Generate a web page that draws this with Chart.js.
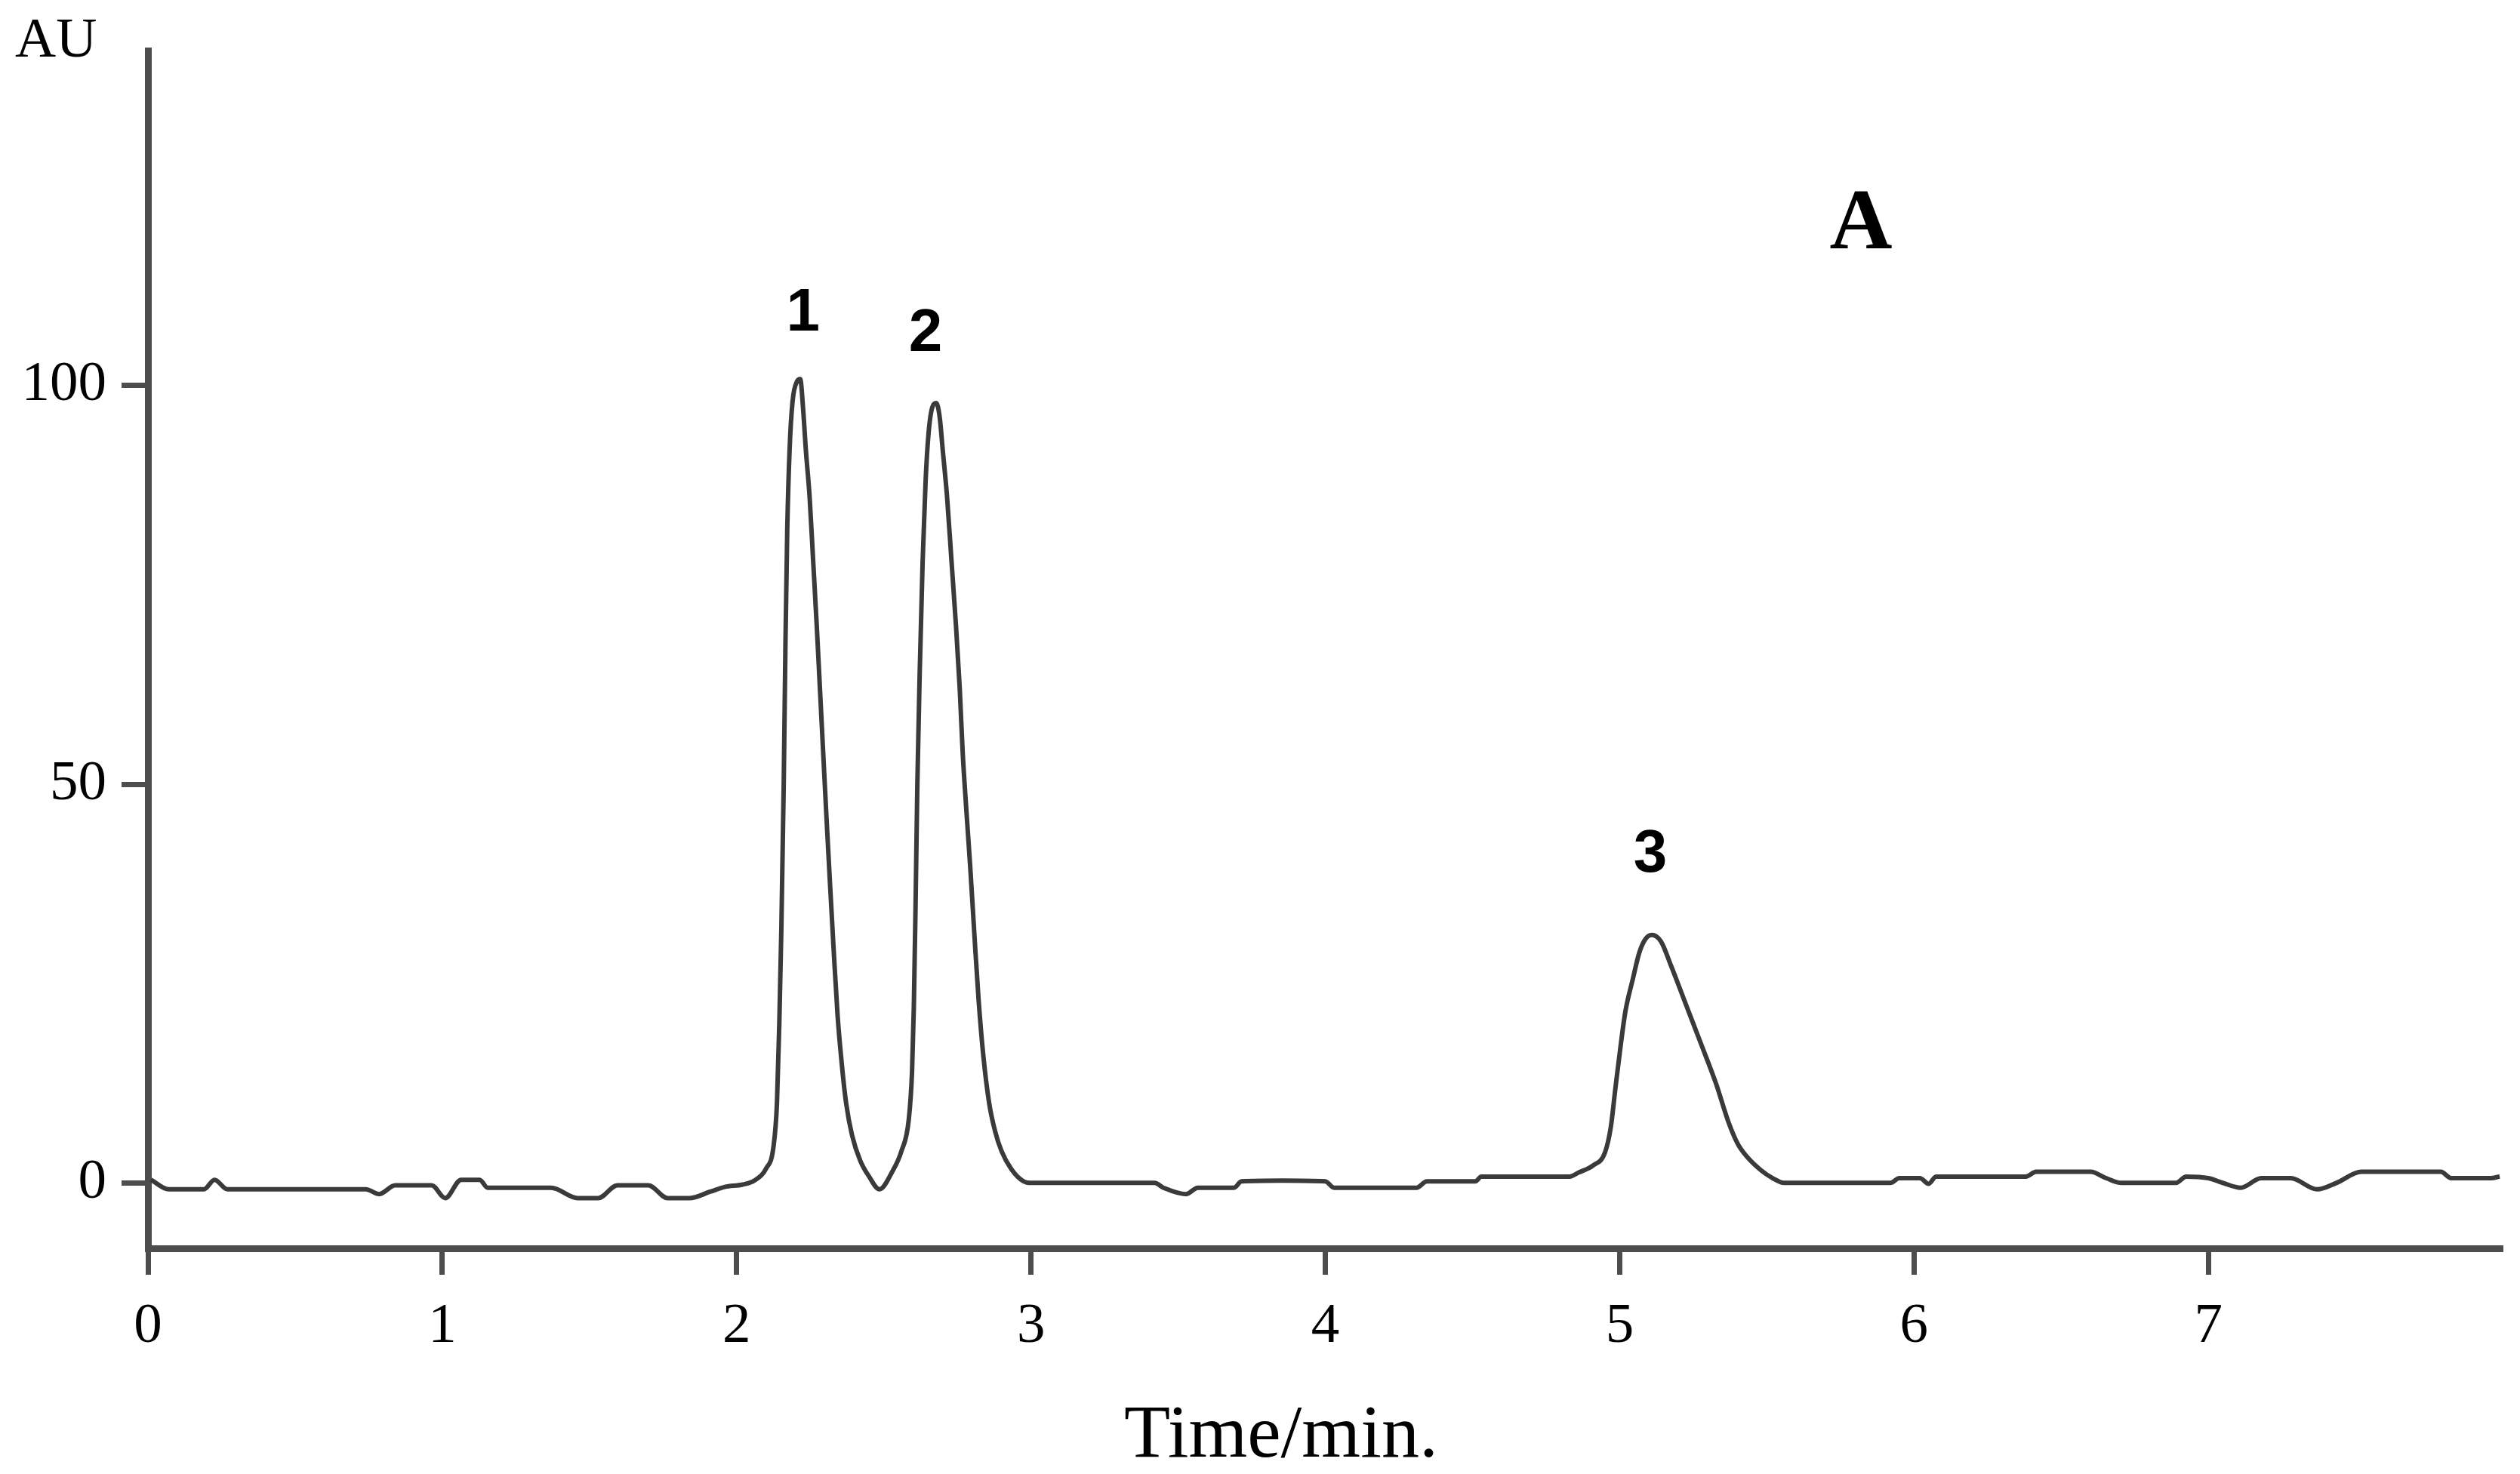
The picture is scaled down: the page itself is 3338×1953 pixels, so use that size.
<!DOCTYPE html>
<html>
<head>
<meta charset="utf-8">
<style>
  html, body { margin: 0; padding: 0; background: #fff; }
  canvas { display: block; }
</style>
<script src="https://cdn.jsdelivr.net/npm/chart.js@4.4.1/dist/chart.umd.min.js"></script>
</head>
<body>
<canvas id="chromatogram" width="3338" height="1953"></canvas>
<script>
// retention time (min) and detector signal (AU)
const timeMin = [
  0.01, 0.07, 0.19, 0.226, 0.27, 0.74, 0.785, 0.84, 0.964, 1.01,
  1.064, 1.127, 1.154, 1.37, 1.46, 1.53, 1.595, 1.70, 1.765, 1.84,
  1.91, 1.96, 2.02, 2.06, 2.10, 2.125, 2.137,
  2.145, 2.152, 2.160, 2.166, 2.172, 2.180, 2.19, 2.205, 2.216,
  2.226, 2.235, 2.248, 2.260, 2.272, 2.283, 2.294, 2.305, 2.318, 2.330,
  2.343, 2.357, 2.372, 2.392, 2.42, 2.45, 2.485, 2.53, 2.56, 2.585,
  2.596, 2.602, 2.608, 2.614, 2.622, 2.632, 2.642, 2.652, 2.665,
  2.678, 2.69, 2.70, 2.715, 2.730, 2.745, 2.758, 2.768, 2.78, 2.793,
  2.808, 2.822, 2.838, 2.858, 2.878, 2.90, 2.934, 2.975, 3.0,
  3.42, 3.45, 3.527, 3.567, 3.69, 3.715, 3.855, 4.0, 4.03, 4.31,
  4.345, 4.51, 4.53, 4.83, 4.86, 4.91, 4.95, 4.97, 4.986, 5.004,
  5.02, 5.045, 5.067, 5.088, 5.109, 5.14, 5.174, 5.226, 5.277, 5.328,
  5.37, 5.40, 5.43, 5.48, 5.52, 5.558,
  5.92, 5.95, 6.02, 6.05, 6.075, 6.38, 6.415, 6.6, 6.653, 6.705,
  6.89, 6.925, 7.0, 7.05, 7.11, 7.18, 7.28, 7.37, 7.435, 7.52,
  7.79, 7.825, 7.96, 7.99
];
const absorbance = [
  0.4, -0.8, -0.8, 0.4, -0.8, -0.8, -1.4, -0.3, -0.3, -1.9,
  0.4, 0.4, -0.6, -0.6, -1.9, -1.9, -0.3, -0.3, -1.9, -1.9,
  -1.1, -0.5, -0.2, 0.3, 1.8, 4.5, 10,
  20, 32, 50, 68, 82, 92, 98, 100.5, 100.8,
  97, 92, 86, 78, 70, 62, 54, 46, 37, 29,
  21, 15, 10, 6, 2.8, 0.8, -0.8, 1.5, 4, 8,
  14, 22, 35, 50, 64, 78, 88, 94, 97.3,
  97.8, 96, 92, 86, 78, 70, 62, 54, 47, 40,
  31, 23, 16, 10, 6.5, 4, 1.7, 0.2, 0,
  0, -0.6, -1.4, -0.6, -0.6, 0.2, 0.3, 0.2, -0.6, -0.6,
  0.2, 0.2, 0.8, 0.8, 1.3, 2.2, 3.8, 7, 12, 17.4,
  21.6, 25.6, 28.9, 30.6, 31.1, 30.3, 27.3, 22.3, 17.4, 12.4,
  7.6, 5, 3.4, 1.6, 0.6, 0,
  0, 0.6, 0.6, -0.1, 0.8, 0.8, 1.4, 1.4, 0.6, 0,
  0, 0.8, 0.6, 0, -0.6, 0.6, 0.6, -0.8, 0, 1.4,
  1.4, 0.6, 0.6, 0.8
];

const xTicks = [0, 1, 2, 3, 4, 5, 6, 7];
const yTicks = [0, 50, 100];

// peak numbers, placed in data units (time, AU of the text baseline)
const peakNames = ['1', '2', '3'];
const peakLabelTime = [2.226, 2.642, 5.104];
const peakLabelAU = [106.9, 104.3, 39.0];

const axisColor = '#4d4d4d';
const traceColor = '#3a3a3a';
const serif = '"Liberation Serif", "Times New Roman", serif';
const sans = '"Liberation Sans", Arial, sans-serif';

const points = timeMin.map((t, i) => ({ x: t, y: absorbance[i] }));

const annotations = {
  id: 'annotations',
  afterDraw(chart) {
    const { ctx, scales: { x, y } } = chart;
    ctx.save();
    ctx.fillStyle = '#000';
    ctx.textBaseline = 'alphabetic';

    ctx.font = 'bold 80px ' + sans;
    ctx.textAlign = 'center';
    peakNames.forEach((name, i) => {
      ctx.fillText(name, x.getPixelForValue(peakLabelTime[i]), y.getPixelForValue(peakLabelAU[i]));
    });

    ctx.font = 'bold 115px ' + serif;
    ctx.fillText('A', x.getPixelForValue(5.82), y.getPixelForValue(117.2));

    ctx.font = '100px ' + serif;
    ctx.fillText('Time/min.', 1697, 1930);

    ctx.font = '75px ' + serif;
    ctx.textAlign = 'left';
    ctx.fillText('AU', 20, 75);
    ctx.restore();
  }
};

new Chart(document.getElementById('chromatogram'), {
  type: 'line',
  data: {
    datasets: [{
      data: points,
      borderColor: traceColor,
      borderWidth: 6,
      pointRadius: 0,
      cubicInterpolationMode: 'monotone',
      fill: false
    }]
  },
  options: {
    responsive: false,
    animation: false,
    devicePixelRatio: 1,
    layout: { padding: { top: 67, right: 23, left: 0, bottom: 0 } },
    plugins: {
      legend: { display: false },
      tooltip: { enabled: false }
    },
    scales: {
      x: {
        type: 'linear',
        min: 0,
        max: 8,
        afterBuildTicks: scale => { scale.ticks = xTicks.map(v => ({ value: v })); },
        afterFit: scale => { scale.height = 299; },
        border: { display: true, color: axisColor, width: 9 },
        grid: { drawOnChartArea: false, drawTicks: true, tickLength: 35, tickWidth: 7, tickColor: axisColor },
        ticks: {
          autoSkip: false,
          maxRotation: 0,
          padding: 24,
          color: '#000',
          font: { family: serif, size: 75 }
        }
      },
      y: {
        min: -8.2,
        max: 142,
        afterBuildTicks: scale => { scale.ticks = yTicks.map(v => ({ value: v })); },
        afterFit: scale => { scale.width = 196; },
        border: { display: true, color: axisColor, width: 9 },
        grid: { drawOnChartArea: false, drawTicks: true, tickLength: 35, tickWidth: 7, tickColor: axisColor },
        ticks: {
          autoSkip: false,
          padding: 20,
          color: '#000',
          font: { family: serif, size: 75 }
        }
      }
    }
  },
  plugins: [annotations]
});
</script>
</body>
</html>
